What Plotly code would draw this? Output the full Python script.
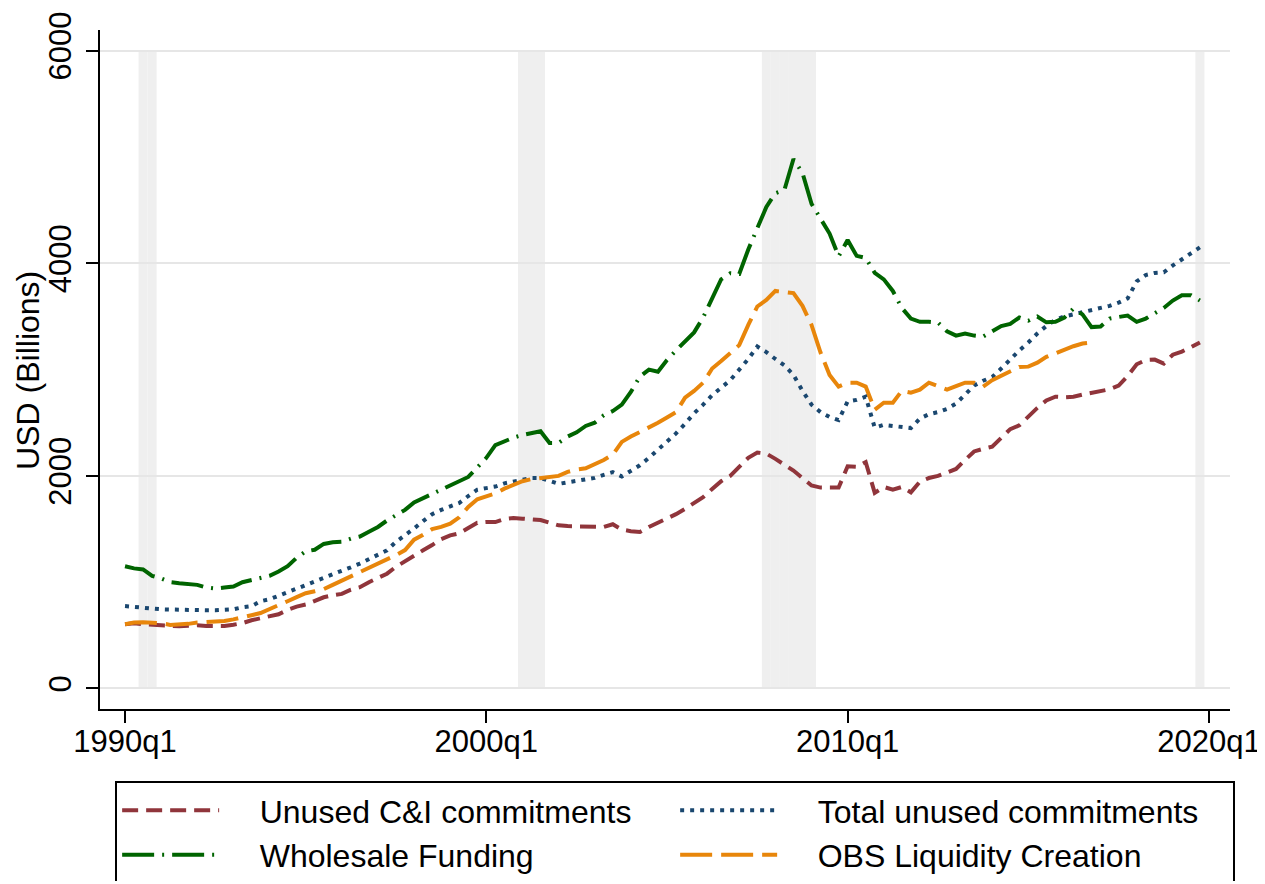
import plotly.graph_objects as go

# quarterly observations, 1990q1 .. 2019q4
quarters = [f"{y}q{q}" for y in range(1990, 2020) for q in range(1, 5)]

unused_ci = [
    605, 613, 605, 595, 594, 590, 585, 590, 594, 588,
    585, 587, 600, 615, 642, 660, 680, 698, 740, 770,
    790, 820, 858, 877, 890, 930, 953, 1000, 1040, 1080,
    1145, 1200, 1255, 1300, 1349, 1405, 1440, 1460, 1510, 1560,
    1566, 1566, 1595, 1604, 1598, 1592, 1585, 1560, 1535, 1528,
    1528, 1520, 1519, 1519, 1545, 1495, 1480, 1472, 1520, 1560,
    1594, 1640, 1690, 1750, 1800, 1877, 1950, 2000, 2080, 2170,
    2220, 2210, 2160, 2110, 2050, 1980, 1910, 1890, 1887, 1890,
    2090, 2085, 2130, 1840, 1896, 1870, 1896, 1845, 1945, 1980,
    2000, 2030, 2065, 2150, 2230, 2255, 2275, 2358, 2440, 2475,
    2560, 2640, 2710, 2745, 2740, 2745, 2765, 2780, 2795, 2815,
    2850, 2940, 3050, 3090, 3094, 3057, 3140, 3170, 3210, 3255,
]

total_unused = [
    775, 765, 758, 752, 745, 742, 738, 736, 736, 736,
    736, 736, 745, 764, 775, 821, 840, 872, 905, 940,
    965, 1005, 1040, 1075, 1105, 1140, 1175, 1215, 1250, 1300,
    1380, 1440, 1505, 1575, 1640, 1680, 1712, 1745, 1811, 1870,
    1885, 1900, 1930, 1950, 1965, 1981, 1981, 1950, 1925, 1940,
    1953, 1960, 1981, 2010, 2035, 1995, 2050, 2100, 2170, 2245,
    2320, 2400, 2490, 2590, 2670, 2760, 2830, 2900, 3000, 3100,
    3217, 3165, 3100, 3040, 2950, 2800, 2670, 2600, 2555, 2525,
    2700, 2715, 2745, 2453, 2480, 2470, 2462, 2450, 2540, 2580,
    2600, 2630, 2680, 2760, 2850, 2895, 2930, 3010, 3100, 3180,
    3255, 3340, 3410, 3470, 3500, 3519, 3535, 3560, 3580, 3600,
    3630, 3670, 3830, 3890, 3910, 3915, 3980, 4040, 4090, 4150,
]

wholesale = [
    1150, 1130, 1120, 1060, 1035, 1000, 990, 985, 975, 950,
    940, 950, 960, 1000, 1020, 1035, 1060, 1100, 1150, 1230,
    1290, 1305, 1360, 1375, 1380, 1410, 1430, 1475, 1520, 1580,
    1630, 1680, 1750, 1790, 1830, 1870, 1910, 1960, 1990, 2080,
    2170, 2290, 2330, 2360, 2385, 2400, 2420, 2310, 2310, 2370,
    2410, 2470, 2500, 2570, 2610, 2670, 2790, 2934, 3000, 2980,
    3090, 3180, 3270, 3350, 3490, 3680, 3850, 3906, 3900, 4130,
    4330, 4530, 4660, 4690, 4981, 4850, 4560, 4420, 4280, 4066,
    4220, 4070, 4050, 3910, 3849, 3740, 3580, 3480, 3450, 3450,
    3443, 3360, 3320, 3340, 3320, 3310, 3360, 3410, 3430, 3490,
    3460, 3500, 3445, 3450, 3490, 3575, 3519, 3400, 3406, 3480,
    3495, 3509, 3450, 3480, 3530, 3580, 3650, 3700, 3700, 3650,
]

# OBS series stops in 2016q4
obs_liquidity = [
    605, 620, 623, 623, 615, 598, 600, 608, 620, 625,
    630, 635, 650, 665, 689, 710, 745, 790, 821, 860,
    896, 915, 935, 975, 1015, 1055, 1085, 1125, 1170, 1215,
    1255, 1302, 1400, 1445, 1500, 1520, 1550, 1610, 1708, 1780,
    1805, 1835, 1880, 1915, 1950, 1970, 1981, 1985, 2000, 2038,
    2060, 2072, 2110, 2150, 2200, 2320, 2370, 2410, 2455, 2500,
    2550, 2600, 2736, 2800, 2877, 3010, 3080, 3150, 3230, 3420,
    3594, 3655, 3740, 3730, 3720, 3600, 3420, 3160, 2950, 2840,
    2877, 2877, 2840, 2623, 2689, 2689, 2800, 2783, 2811, 2877,
    2840, 2811, 2845, 2877, 2877, 2840, 2900, 2940, 2980, 3025,
    3028, 3065, 3120, 3155, 3185, 3220, 3245, 3255,
]

recession_quarters = [
    "1990q3", "1990q4",
    "2001q1", "2001q2", "2001q3",
    "2007q4", "2008q1", "2008q2", "2008q3", "2008q4", "2009q1",
    "2019q4",
]

x_ticks = ["1990q1", "2000q1", "2010q1", "2020q1"]
y_ticks = [0, 2000, 4000, 6000]


def qnum(label):
    y, q = label.split("q")
    return (int(y) - 1990) * 4 + int(q) - 1


x = [qnum(q) for q in quarters]
FONT = "Liberation Sans, Arial, Helvetica, sans-serif"
PAD = "\u00a0\u00a0\u00a0\u00a0"  # gap between legend key and its label

series = [
    ("Unused C&I commitments", unused_ci, "#90353b", "16px,8px"),
    ("Total unused commitments", total_unused, "#1a476f", "4px,6px"),
    ("Wholesale Funding", wholesale, "#006400", "32px,8px,2px,8px"),
    ("OBS Liquidity Creation", obs_liquidity, "#e8860b", "32px,9px"),
]

fig = go.Figure()
for name, vals, color, dash in series:
    fig.add_trace(go.Scatter(
        x=x[:len(vals)], y=vals, name=PAD + name, mode="lines",
        line=dict(color=color, width=4, dash=dash),
        hovertemplate="%{y}<extra>" + name + "</extra>",
    ))

# recession shading, one quarter wide per bar
for q in recession_quarters:
    c = qnum(q)
    fig.add_shape(type="rect", xref="x", yref="y", x0=c - 0.5, x1=c + 0.5,
                  y0=0, y1=6000, fillcolor="#efefef", line_width=0, layer="below")

# page body adds an 8px margin, margins below are shifted to compensate
fig.update_layout(
    template="none",
    width=1257, height=873,
    margin=dict(l=92, r=35, t=22, b=172, autoexpand=False),
    paper_bgcolor="white", plot_bgcolor="white",
    font=dict(family=FONT, size=31, color="black"),
    showlegend=True,
    legend=dict(
        orientation="h", x=0.0134, y=-0.106, xanchor="left", yanchor="top",
        bordercolor="black", borderwidth=2, bgcolor="white",
        font=dict(family=FONT, size=32, color="black"),
        itemwidth=97, entrywidth=446, traceorder="normal",
    ),
    annotations=[dict(
        text="USD (Billions)", xref="paper", yref="paper",
        x=-0.0637, y=0.498, xanchor="center", yanchor="middle",
        textangle=-90, showarrow=False, font=dict(size=32),
    )],
)

fig.update_xaxes(
    range=[-2.77, 122.33], automargin=False,
    tickvals=[qnum(t) for t in x_ticks], ticktext=x_ticks,
    ticklabelstandoff=-8, ticklabeloverflow="allow",
    showgrid=False, zeroline=False,
    showline=True, linecolor="black", linewidth=2,
    ticks="outside", ticklen=12, tickwidth=2, tickcolor="black",
)
fig.update_yaxes(
    range=[-193, 6195], automargin=False,
    tickvals=y_ticks, tickangle=-90, ticklabelstandoff=3,
    showgrid=True, gridcolor="#e6e6e6", gridwidth=2, zeroline=False,
    showline=True, linecolor="black", linewidth=2,
    ticks="outside", ticklen=12, tickwidth=2, tickcolor="black",
)

fig.write_html("out.html")
